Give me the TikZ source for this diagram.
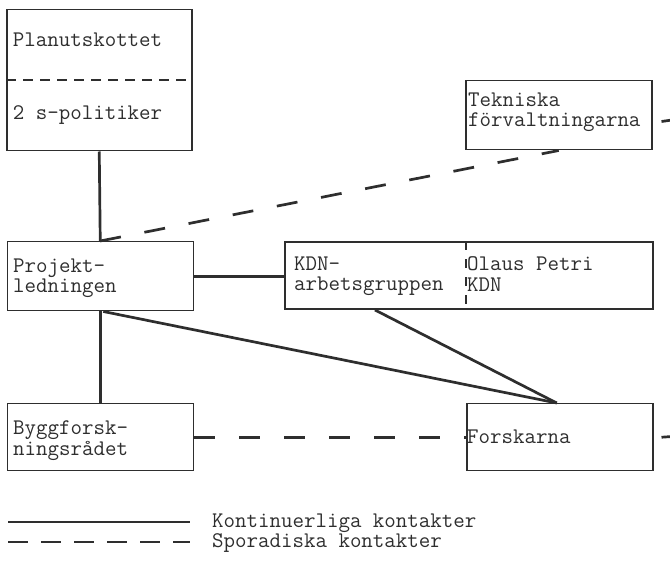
\documentclass[tikz,border=0pt]{standalone}
\usetikzlibrary{calc}
\definecolor{ink}{HTML}{2E2E2E}
\begin{document}
\begin{tikzpicture}[x=1pt,y=-1pt,
  box/.style={draw=ink, line width=1.5pt, rectangle, inner sep=0pt, anchor=north west},
  lbl/.style={anchor=north west, inner sep=0pt, align=left, text=ink,
    font=\ttfamily\fontsize{22.3}{19}\selectfont},
  cont/.style={draw=ink, line width=2.7pt},
  spor/.style={draw=ink, line width=2.7pt, dash pattern=on 21pt off 24pt},
  divider/.style={draw=ink, line width=1.3pt},
]
\useasboundingbox (0,0) rectangle (670,561);

% boxes
\node[box, minimum width=185pt, minimum height=141pt] (plan) at (6,9) {};
\node[box, minimum width=186pt, minimum height=69pt] (tek) at (465,80) {};
\node[box, minimum width=186pt, minimum height=69pt] (proj) at (6.5,241) {};
\node[box, minimum width=368pt, minimum height=67pt] (kdn) at (284,241.5) {};
\node[box, minimum width=186pt, minimum height=67pt] (bygg) at (6.5,403) {};
\node[box, minimum width=186pt, minimum height=67pt] (forsk) at (466,403) {};

% inner dividers
\draw[divider, dash pattern=on 10pt off 7pt]
  ($(plan.north west)+(0,71)$) -- ($(plan.north east)+(0,71)$);
\draw[divider, dash pattern=on 9pt off 9pt]
  ($(kdn.north west)+(182,0)$) -- ($(kdn.south west)+(182,0)$);

% labels
\node[lbl] (tplan) at (12.7,32.7) {\strut Planutskottet};
\node[lbl] (tpol) at (12.7,105.7) {\strut 2 s-politiker};
\node[lbl] (ttek) at (468,92.7) {\strut Tekniska\\\strut förvaltningarna};
\node[lbl] (tproj) at (13,258.4) {\strut Projekt-\\\strut ledningen};
\node[lbl] (tkdn) at (294,256.7) {\strut KDN-\\\strut arbetsgruppen};
\node[lbl] (tolaus) at (467,256.7) {\strut Olaus Petri\\\strut KDN};
\node[lbl] (tbygg) at (13,420.7) {\strut Byggforsk-\\\strut ningsrådet};
\node[lbl] (tforsk) at (467,429.7) {\strut Forskarna};

% continuous contacts
\draw[cont] (plan.south) -- (proj.north);
\draw[cont] (proj.east) -- (proj.east -| kdn.west);
\draw[cont] (proj.south) -- (bygg.north);
\draw[cont] ([xshift=3pt]proj.south) -- ([xshift=-3pt]forsk.north);
\draw[cont] ($(kdn.south west)+(91,0)$) -- ([xshift=-3pt]forsk.north);

% sporadic contacts
\draw[spor] (proj.north) -- (tek.south);
\draw[spor] (bygg.east) -- (forsk.west);
\coordinate (tekout) at (672,120);
\coordinate (forskout) at (672,436.5);
\draw[cont] ($(tek.south east)+(9,-29)$) -- (tekout);
\draw[cont] ($(forsk.east)+(8,0)$) -- (forskout);

% legend
\coordinate (k1) at (8,522);
\coordinate (k2) at (190,522);
\coordinate (s1) at (8,542);
\coordinate (s2) at (190,542);
\draw[cont, line width=2.3pt] (k1) -- (k2);
\draw[draw=ink, line width=2.3pt, dash pattern=on 20pt off 13pt] (s1) -- (s2);
\node[lbl] (tkont) at (212,513.7) {\strut Kontinuerliga kontakter};
\node[lbl] (tspor) at (212,533.7) {\strut Sporadiska kontakter};
\end{tikzpicture}
\end{document}
